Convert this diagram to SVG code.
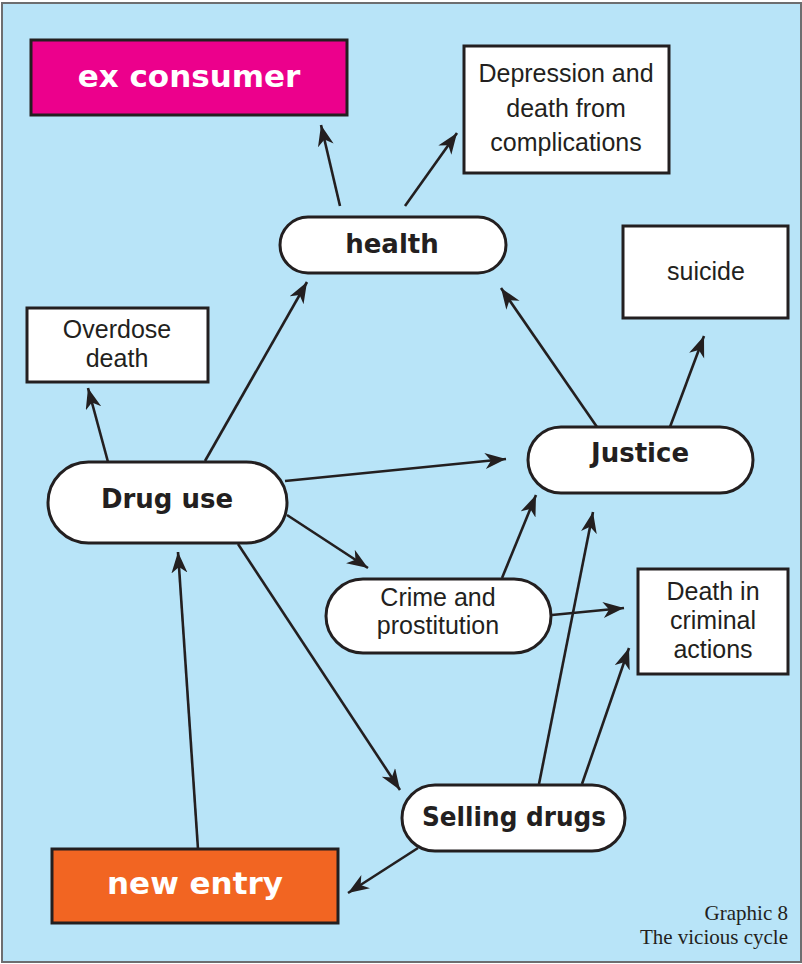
<svg xmlns="http://www.w3.org/2000/svg" width="802" height="964" viewBox="0 0 802 964">
<style>
.bg{fill:#b8e4f8;stroke:#6d6e70;stroke-width:2}
.box{fill:#ffffff;stroke:#231f20;stroke-width:3}
.pill{fill:#ffffff;stroke:#231f20;stroke-width:3}
.b{font-family:"DejaVu Sans",sans-serif;font-weight:bold;font-size:26px;fill:#231f20;text-anchor:middle}
.w{font-family:"DejaVu Sans",sans-serif;font-weight:bold;font-size:31px;fill:#ffffff;text-anchor:middle}
.r{font-family:"Liberation Sans",Arial,sans-serif;font-size:25px;fill:#231f20;text-anchor:middle}
.cap{font-family:"Liberation Serif","Times New Roman",serif;font-size:21px;fill:#231f20;text-anchor:end}
.c line{stroke:#231f20;stroke-width:2.6;marker-end:url(#ah)}
</style>
<defs>
<marker id="ah" markerUnits="userSpaceOnUse" markerWidth="24" markerHeight="18" refX="21" refY="8" orient="auto" viewBox="0 0 24 18">
<path d="M0,0 L21,8 L0,16 L6,8 Z" fill="#231f20"/>
</marker>
</defs>
<rect class="bg" x="2" y="3" width="799" height="959"/>

<g class="c" id="connectors">
<line x1="340" y1="206" x2="321" y2="125"/>
<line x1="405" y1="206" x2="457" y2="133"/>
<line x1="108" y1="462" x2="88" y2="388"/>
<line x1="205" y1="461" x2="307" y2="282"/>
<line x1="285" y1="481" x2="506" y2="459"/>
<line x1="287" y1="515" x2="368" y2="568"/>
<line x1="238" y1="544" x2="400" y2="790"/>
<line x1="597" y1="427" x2="501" y2="288"/>
<line x1="670" y1="427" x2="704" y2="336"/>
<line x1="502" y1="578" x2="536" y2="495"/>
<line x1="552" y1="615" x2="624" y2="608"/>
<line x1="539" y1="784" x2="593" y2="512"/>
<line x1="582" y1="784" x2="629" y2="648"/>
<line x1="418" y1="848" x2="348" y2="893"/>
<line x1="198" y1="849" x2="178" y2="552"/>
</g>

<g id="ex-consumer">
<rect x="31" y="40" width="316" height="75" fill="#ec008c" stroke="#231f20" stroke-width="3"/>
<text class="w" x="189" y="87">ex consumer</text>
</g>
<g id="depression">
<rect class="box" x="464" y="46" width="205" height="127"/>
<text class="r" x="566" y="82">Depression and</text>
<text class="r" x="566" y="117">death from</text>
<text class="r" x="566" y="151">complications</text>
</g>
<g id="health">
<rect class="pill" x="280" y="217" width="226" height="56" rx="28"/>
<text class="b" x="392" y="253">health</text>
</g>
<g id="suicide">
<rect class="box" x="623" y="226" width="165" height="92"/>
<text class="r" x="706" y="280">suicide</text>
</g>
<g id="overdose">
<rect class="box" x="27" y="308" width="181" height="74"/>
<text class="r" x="117" y="338">Overdose</text>
<text class="r" x="117" y="367">death</text>
</g>
<g id="drug-use">
<rect class="pill" x="48" y="462" width="239" height="81" rx="40.5"/>
<text class="b" x="167" y="508">Drug use</text>
</g>
<g id="justice">
<rect class="pill" x="528" y="427" width="225" height="66" rx="33"/>
<text class="b" x="640" y="462">Justice</text>
</g>
<g id="crime">
<rect class="pill" x="326" y="579" width="225" height="74" rx="37"/>
<text class="r" x="438" y="606">Crime and</text>
<text class="r" x="438" y="634">prostitution</text>
</g>
<g id="death-criminal">
<rect class="box" x="638" y="569" width="150" height="105"/>
<text class="r" x="713" y="600">Death in</text>
<text class="r" x="713" y="629">criminal</text>
<text class="r" x="713" y="658">actions</text>
</g>
<g id="selling">
<rect class="pill" x="402" y="785" width="223" height="66" rx="33"/>
<text class="b" x="514" y="826" textLength="184" lengthAdjust="spacingAndGlyphs">Selling drugs</text>
</g>
<g id="new-entry">
<rect x="52" y="849" width="286" height="74" fill="#f26522" stroke="#231f20" stroke-width="3"/>
<text class="w" x="195" y="894">new entry</text>
</g>
<g id="caption">
<text class="cap" x="788" y="920">Graphic 8</text>
<text class="cap" x="788" y="944">The vicious cycle</text>
</g>
</svg>
